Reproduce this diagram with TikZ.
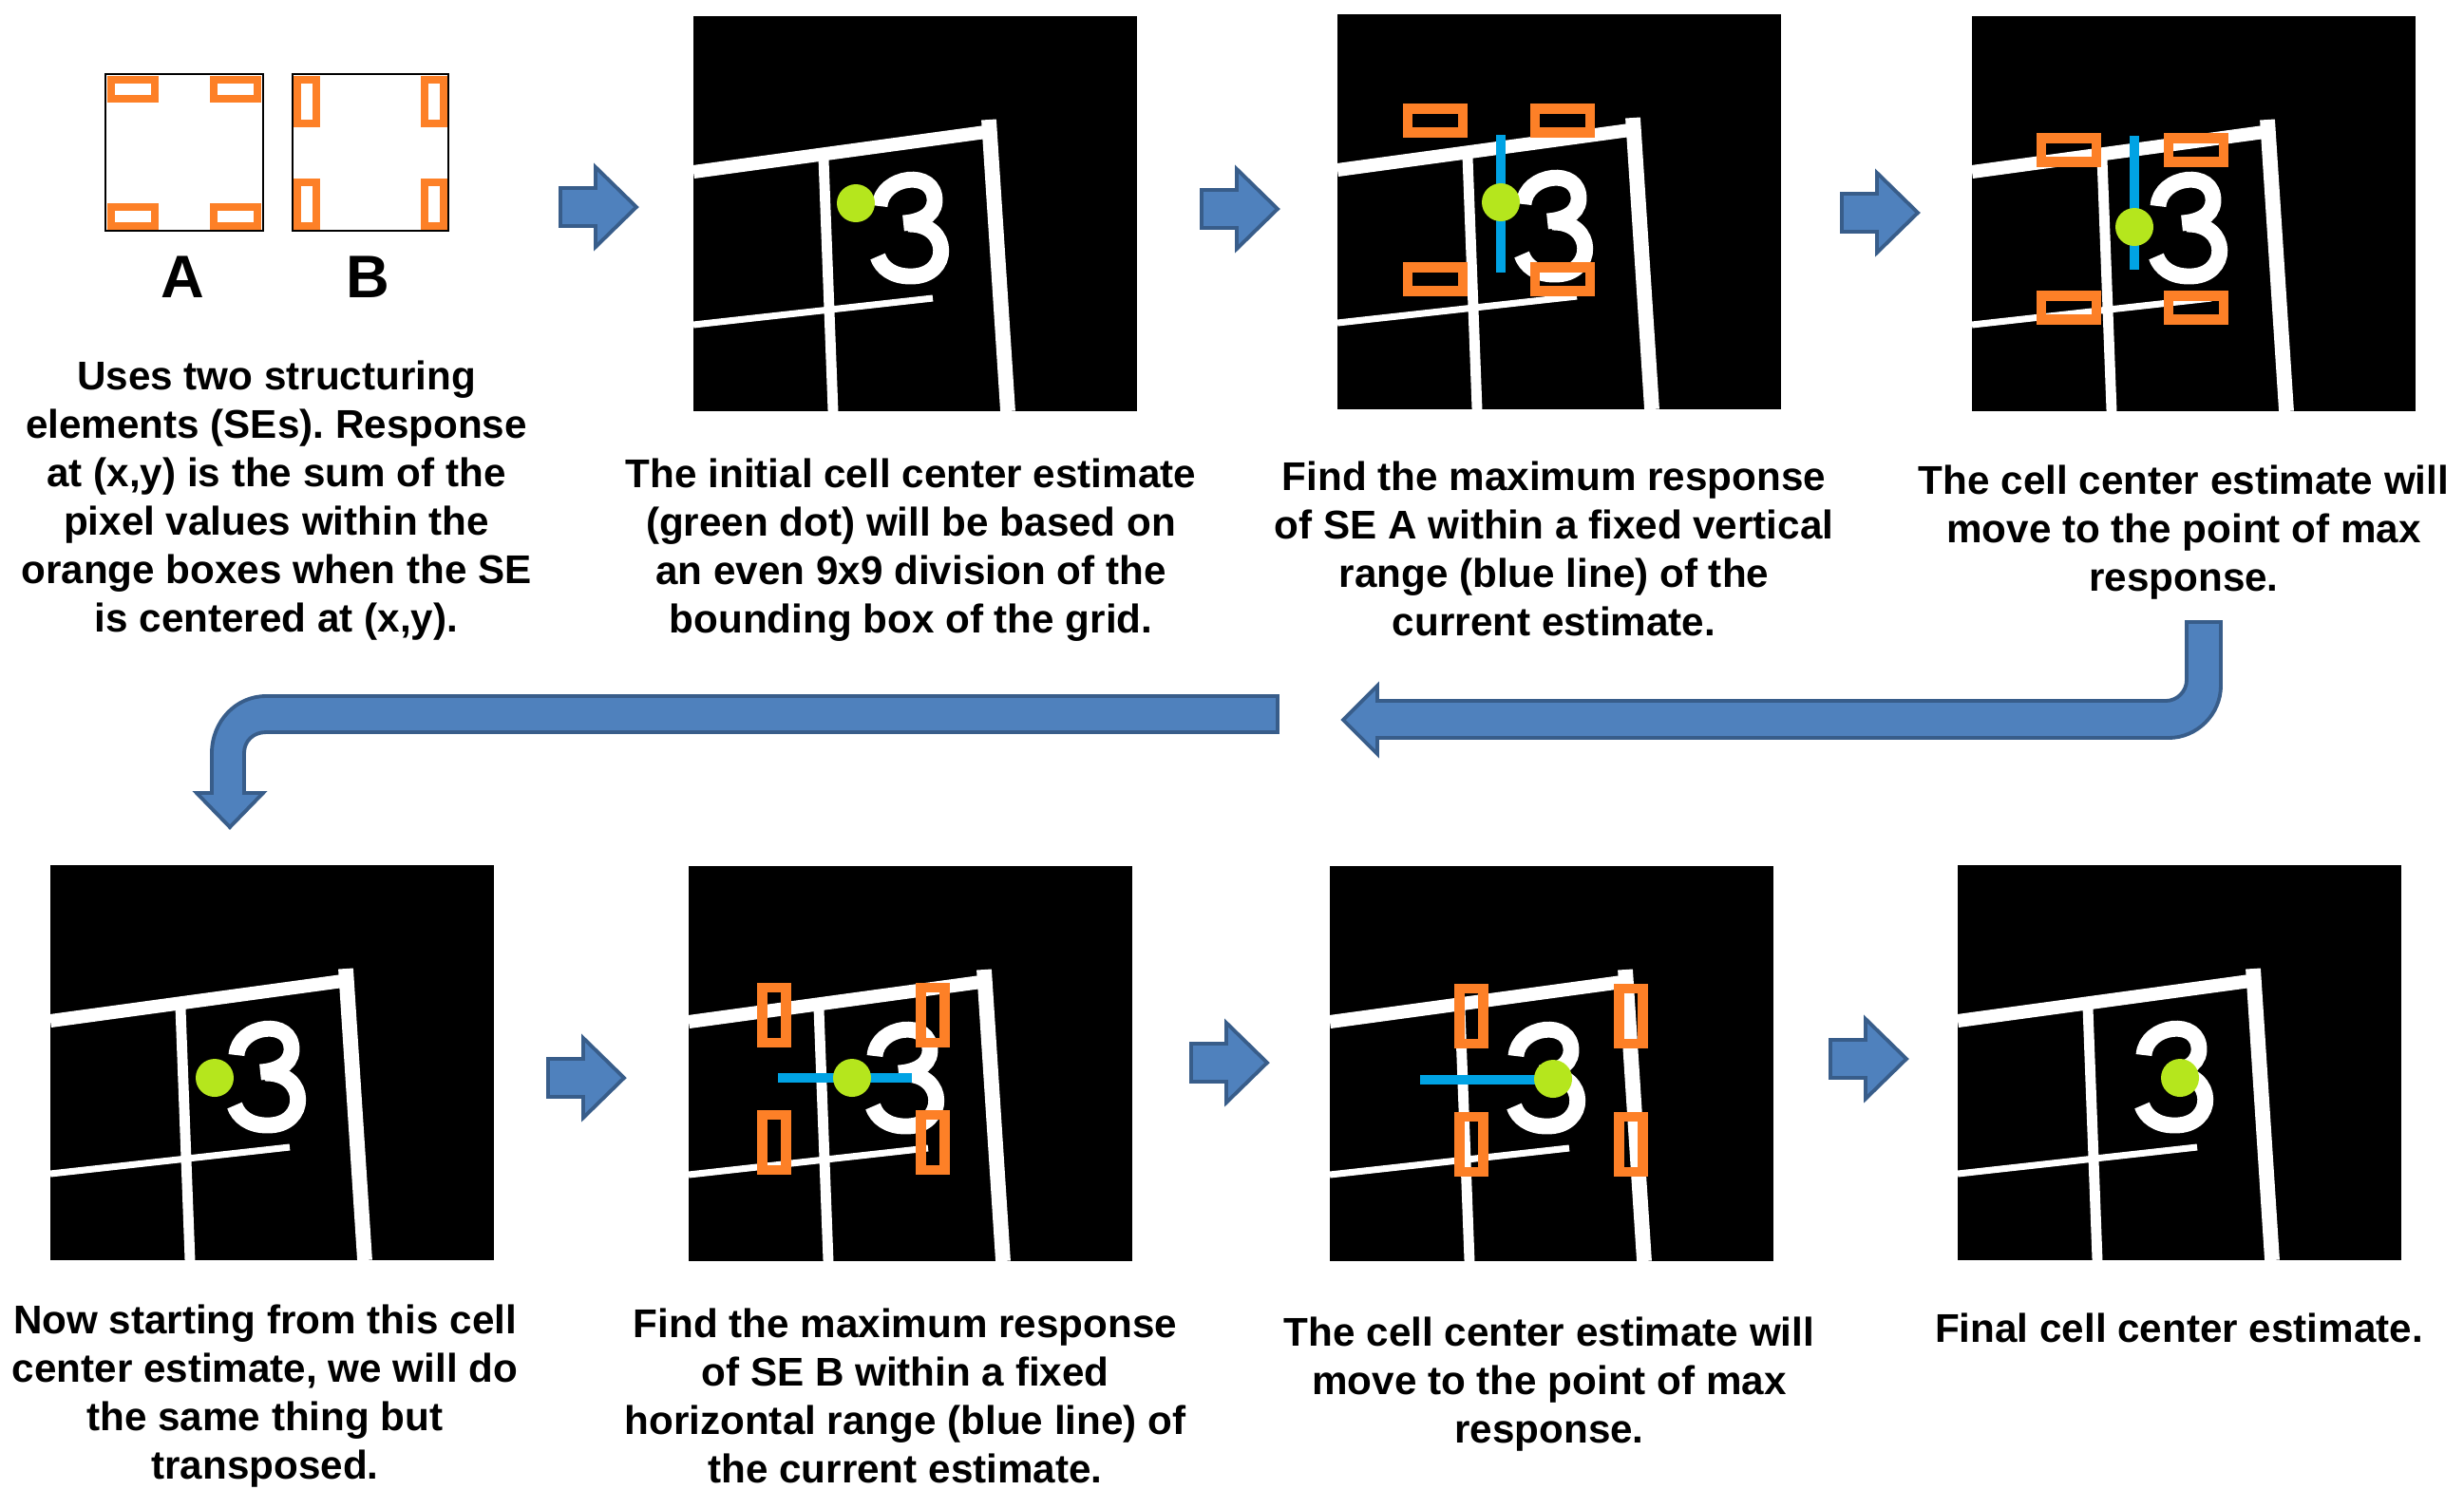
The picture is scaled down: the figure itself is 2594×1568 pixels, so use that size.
\documentclass[tikz,border=0pt]{standalone}
\usepackage{fontspec}
\setmainfont{Liberation Sans}
\frenchspacing

\definecolor{seorange}{RGB}{253,128,39}
\definecolor{rangeblue}{RGB}{0,163,228}
\definecolor{dotgreen}{RGB}{181,230,29}
\definecolor{arrowfill}{RGB}{79,129,189}
\definecolor{arrowline}{RGB}{56,93,138}

\tikzset{
  caption/.style={align=center, inner sep=0pt, font=\fontsize{12}{14.5}\selectfont\bfseries},
  gridline/.style={white, line cap=butt},
  sebox/.style={draw=seorange, line width=3.1pt},
  rangeline/.style={rangeblue, line width=2.7pt},
  blockarrow/.style={fill=arrowfill, draw=arrowline, line width=1.1pt, line join=miter},
}

% one cropped cell image, local pixel coordinates
\newcommand{\cellpanel}{%
  \fill[black] (0,0) rectangle (467,416);
  \draw[gridline, line width=4pt] (0,164) -- (315,121);
  \draw[gridline, line width=4.5pt] (311,109) -- (331,416);
  \draw[gridline, line width=3.1pt] (137,150) -- (147,416);
  \draw[gridline, line width=2pt] (0,325) -- (252,297);
  \draw[white, line width=4.8pt] (196,200) .. controls (198,168) and (255,160) .. (254,195)
    .. controls (253,212) and (235,217) .. (221,218);
  \draw[white, line width=4.8pt] (226,219) .. controls (272,218) and (272,275) .. (228,274)
    .. controls (210,274) and (198,265) .. (194,253);
}

\begin{document}
\begin{tikzpicture}[x=0.01cm, y=-0.01cm]
    \useasboundingbox (0,0) rectangle (2594,1568);

    %structuring elements
    \draw[line width=0.8pt] (111,78) rectangle (277,243);
    \foreach \cx in {140,248}
      \foreach \cy in {94,228}
        \draw[draw=seorange, line width=2.4pt] (\cx-23,\cy-10) rectangle (\cx+23,\cy+10);
    \draw[line width=0.8pt] (308,78) rectangle (472,243);
    \foreach \cx in {323,457}
      \foreach \cy in {107,215}
        \draw[draw=seorange, line width=2.4pt] (\cx-10,\cy-23) rectangle (\cx+10,\cy+23);
    \node[font=\fontsize{18}{20}\selectfont\bfseries] (labA) at (192,292) {A};
    \node[font=\fontsize{18}{20}\selectfont\bfseries] (labB) at (387,292) {B};

    %top row
    \begin{scope}[shift={(730,17)}]
      \cellpanel
      \fill[dotgreen] (171,197) circle (20);
    \end{scope}
    \begin{scope}[shift={(1408,15)}]
      \cellpanel
      \draw[rangeline] (172,127) -- (172,272);
      \fill[dotgreen] (172,198) circle (20);
      \foreach \cx in {103,237}
        \foreach \cy in {112,279}
          \draw[sebox] (\cx-29,\cy-12.5) rectangle (\cx+29,\cy+12.5);
    \end{scope}
    \begin{scope}[shift={(2076,17)}]
      \cellpanel
      \draw[rangeline] (171,126) -- (171,267);
      \fill[dotgreen] (171,222) circle (20);
      \foreach \cx in {102,236}
        \foreach \cy in {141,307}
          \draw[sebox] (\cx-29,\cy-12.5) rectangle (\cx+29,\cy+12.5);
    \end{scope}

    %bottom row
    \begin{scope}[shift={(53,911)}]
      \cellpanel
      \fill[dotgreen] (173,224) circle (20);
    \end{scope}
    \begin{scope}[shift={(725,912)}]
      \cellpanel
      \draw[rangeline] (94,223) -- (235,223);
      \fill[dotgreen] (172,223) circle (20);
      \foreach \cx in {90,257}
        \foreach \cy in {157,291}
          \draw[sebox] (\cx-12.5,\cy-29) rectangle (\cx+12.5,\cy+29);
    \end{scope}
    \begin{scope}[shift={(1400,912)}]
      \cellpanel
      \draw[rangeline] (95,225) -- (225,225);
      \fill[dotgreen] (235,224) circle (20);
      \foreach \cx in {149,317}
        \foreach \cy in {158,293}
          \draw[sebox] (\cx-12.5,\cy-29) rectangle (\cx+12.5,\cy+29);
    \end{scope}
    \begin{scope}[shift={(2061,911)}]
      \cellpanel
      \fill[dotgreen] (234,224) circle (20);
    \end{scope}

    %small arrows
    \foreach \ax/\ay in {590/218, 1265/220, 1939/224, 577/1135, 1254/1119, 1927/1115}
      \draw[blockarrow] (\ax,\ay-20) -- ++(37,0) -- ++(0,-22) -- ++(43,42)
        -- ++(-43,42) -- ++(0,-22) -- ++(-37,0) -- cycle;

    %bent arrows
    \draw[blockarrow] (2302,655) -- (2302,716) .. controls (2302,728) and (2292,738) .. (2280,738)
      -- (1450,738) -- (1450,722) -- (1414,758) -- (1450,794) -- (1450,777) -- (2283,777)
      .. controls (2313,777) and (2338,752) .. (2338,722) -- (2338,655) -- cycle;
    \draw[blockarrow] (1345,733) -- (280,733) .. controls (248,733) and (223,760) .. (223,793)
      -- (223,835) -- (207,835) -- (242,871) -- (277,835) -- (257,835) -- (257,793)
      .. controls (257,780) and (267,771) .. (280,771) -- (1345,771) -- cycle;

    %texts
    \node[caption] (uses) at (291,527) {Uses two structuring\\elements (SEs). Response\\at (x,y) is the sum of the\\pixel values within the\\orange boxes when the SE\\is centered at (x,y).};
    \node[caption] (initial) at (959,579) {The initial cell center estimate\\(green dot) will be based on\\an even 9x9 division of the\\bounding box of the grid.};
    \node[caption] (searchA) at (1636,578) {Find the maximum response\\of SE A within a fixed vertical\\range (blue line) of the\\current estimate.};
    \node[caption] (moveA) at (2299,561) {The cell center estimate will\\move to the point of max\\response.};
    \node[caption] (transpose) at (279,1470) {Now starting from this cell\\center estimate, we will do\\the same thing but\\transposed.};
    \node[caption] (searchB) at (953,1470) {Find the maximum response\\of SE B within a fixed\\horizontal range (blue line) of\\the current estimate.};
    \node[caption] (moveB) at (1631,1458) {The cell center estimate will\\move to the point of max\\response.};
    \node[caption] (final) at (2294,1398) {Final cell center estimate.};
\end{tikzpicture}
\end{document}
